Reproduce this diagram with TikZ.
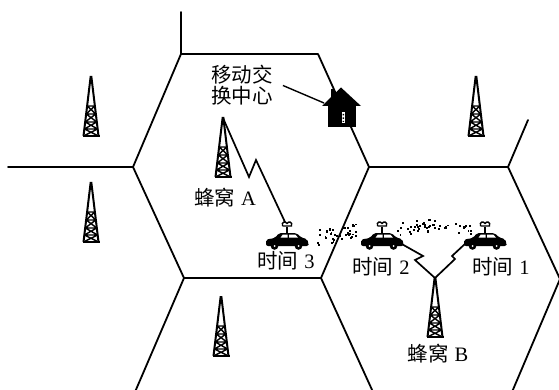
\documentclass[tikz,border=0pt]{standalone}
\usepackage{fontspec}
\setmainfont{Liberation Serif}
\newfontfamily\cjk{Noto Sans CJK SC}
\begin{document}
\begin{tikzpicture}[x=1pt,y=-1pt,
  cell/.style={line width=1.8pt,line cap=round,line join=round},
  radio/.style={line width=1.7pt,line join=miter,miter limit=30},
  lbl/.style={inner sep=0pt,font=\fontsize{20.5}{21}\selectfont},
  trail/.style={fill=black},
  % lattice mast, origin at the tip, y grows downwards
  mast/.pic={
    \coordinate (-tip) at (0,0);
    \draw[line width=2pt,line join=miter,miter limit=40]
      (-7.5,59) -- (-0.4,0) -- (0.4,0) -- (7.5,59);
    \draw[line width=1.4pt]
      (-3.7,29) -- (3.7,29)  (-4.7,37) -- (4.7,37)
      (-5.7,45) -- (5.7,45)  (-6.6,52) -- (6.6,52)
      (-3.7,29) -- (4.7,37)  (3.7,29) -- (-4.7,37)
      (-4.7,37) -- (5.7,45)  (4.7,37) -- (-5.7,45)
      (-5.7,45) -- (6.6,52)  (5.7,45) -- (-6.6,52)
      (-6.6,52) -- (7.5,59)  (6.6,52) -- (-7.5,59);
    \draw[line width=2pt] (-8.5,59) -- (8.5,59);
  },
  % switching centre, origin at the roof ridge
  office/.pic={
    \coordinate (-eave) at (-17,15);
    \fill (-10,1) rectangle (-6,11);
    \fill (-19,18) -- (0,-0.5) -- (20,18) -- cycle;
    \fill (-13.5,14) rectangle (14.5,39.5);
    \fill[white] (0.5,24) rectangle (4,35);
    \fill (1.5,26) rectangle (3,27.5) (1.5,29.5) rectangle (3,31) (1.5,33) rectangle (3,34);
  },
  % car with roof aerial, origin at the middle of the ground line
  auto/.pic={
    \coordinate (-ant) at (-2,-27);
    \coordinate (-rear) at (18,-6);
    \coordinate (-front) at (-19,-6);
    \fill[rounded corners=2pt]
      (-21,-3) -- (-21,-9.5) -- (-12,-11) -- (-8,-16) -- (9.5,-16)
      -- (14,-11.5) -- (20,-10) -- (21.5,-6) -- (21.5,-3) -- cycle;
    \fill (-12.5,-3) circle (3.8) (11.5,-3) circle (3.8);
    \fill[white] (-12.5,-3) circle (1) (11.5,-3) circle (1);
    \fill[white] (-6.5,-11.4) -- (-4.3,-14.3) -- (0.6,-14.3) -- (0.6,-11.4) -- cycle;
    \fill[white] (2.2,-11.4) -- (2.2,-14.3) -- (8.4,-14.3) -- (11,-11.4) -- cycle;
    \draw[line width=1.5pt] (0,-16) -- (0,-22);
    \draw[line width=1.4pt] (-4.5,-23) .. controls (-6,-27.5) and (-1,-28) .. (0,-25.5)
      .. controls (1,-28) and (6,-27.5) .. (4.5,-23) -- (-4.5,-23);
  }]
\useasboundingbox (0,0) rectangle (559,390);

% cell boundaries
\coordinate (aTL) at (181,54);
\coordinate (aTR) at (318,54);
\coordinate (aR)  at (369,167);
\coordinate (aBR) at (321,278);
\coordinate (aBL) at (184,278);
\coordinate (aL)  at (133,167);
\coordinate (bTR) at (508,167);
\coordinate (bR)  at (560,279);
\coordinate (nEnd)  at (181,12);
\coordinate (wEnd)  at (8,167);
\coordinate (neEnd) at (528,120);
\coordinate (swEnd) at (135,392);
\coordinate (sEnd)  at (373,392);
\coordinate (seEnd) at (512,392);

\draw[cell] (nEnd) -- (aTL);
\draw[cell] (aTL) -- (aTR) -- (aR) -- (aBR) -- (aBL) -- (aL) -- cycle;
\draw[cell] (wEnd) -- (aL);
\draw[cell] (aR) -- (bTR) -- (bR) -- (seEnd);
\draw[cell] (bTR) -- (neEnd);
\draw[cell] (aBL) -- (swEnd);
\draw[cell] (aBR) -- (sEnd);

% base stations
\pic (t1) at (91,77)  {mast};
\pic (t2) at (91,183) {mast};
\pic (tA) at (223,118) {mast};
\pic (t4) at (476,77) {mast};
\pic (t5) at (221,297) {mast};
\pic (tB) at (435,278) {mast};

% switching centre
\pic (msc) at (341,88) {office};

% cars along the route
\pic (c3) at (287,249) {auto};
\pic (c2) at (382,249) {auto};
\pic (c1) at (485,249) {auto};

% radio links
\draw[radio] (tA-tip) -- (249,177) -- (256,160) -- (c3-ant);
\draw[radio] (tB-tip) -- (415,260) -- (423,256) -- (c2-rear);
\draw[radio] (tB-tip) -- (455,259) -- (452,256) -- (c1-front);

% trail of the moving car: scattered specks
\pgfmathsetseed{2718}
\foreach \k in {1,...,42}{
  \pgfmathsetmacro\tp{rnd}
  \pgfmathsetmacro\jit{rand}
  \pgfmathsetmacro\dx{314+44*\tp}
  \pgfmathsetmacro\dy{237.5-7*\tp+8*\jit}
  \fill[trail] (\dx,\dy) rectangle ++(1.9,1.9);
}
\foreach \k in {1,...,50}{
  \pgfmathsetmacro\tp{rnd}
  \pgfmathsetmacro\jit{rand}
  \pgfmathsetmacro\dx{397+75*\tp}
  \pgfmathsetmacro\dy{229-4*sin(180*\tp)+6*\jit}
  \fill[trail] (\dx,\dy) rectangle ++(1.9,1.9);
}

% labels
\node[lbl,align=center] (mscl) at (242,85.5) {\cjk 移动交\\\cjk 换中心};
\draw[line width=1.4pt] ([xshift=10pt]mscl.east) -- (msc-eave);
\node[lbl,anchor=base] (lA) at (225,205.5) {{\cjk 蜂窝}\hspace{6pt}A};
\node[lbl,anchor=base] (l3) at (286,268.5) {{\cjk 时间}\hspace{6pt}3};
\node[lbl,anchor=base] (l2) at (381,274) {{\cjk 时间}\hspace{6pt}2};
\node[lbl,anchor=base] (l1) at (501,274) {{\cjk 时间}\hspace{6pt}1};
\node[lbl,anchor=base] (lB) at (438,361.5) {{\cjk 蜂窝}\hspace{6pt}B};
\end{tikzpicture}
\end{document}
